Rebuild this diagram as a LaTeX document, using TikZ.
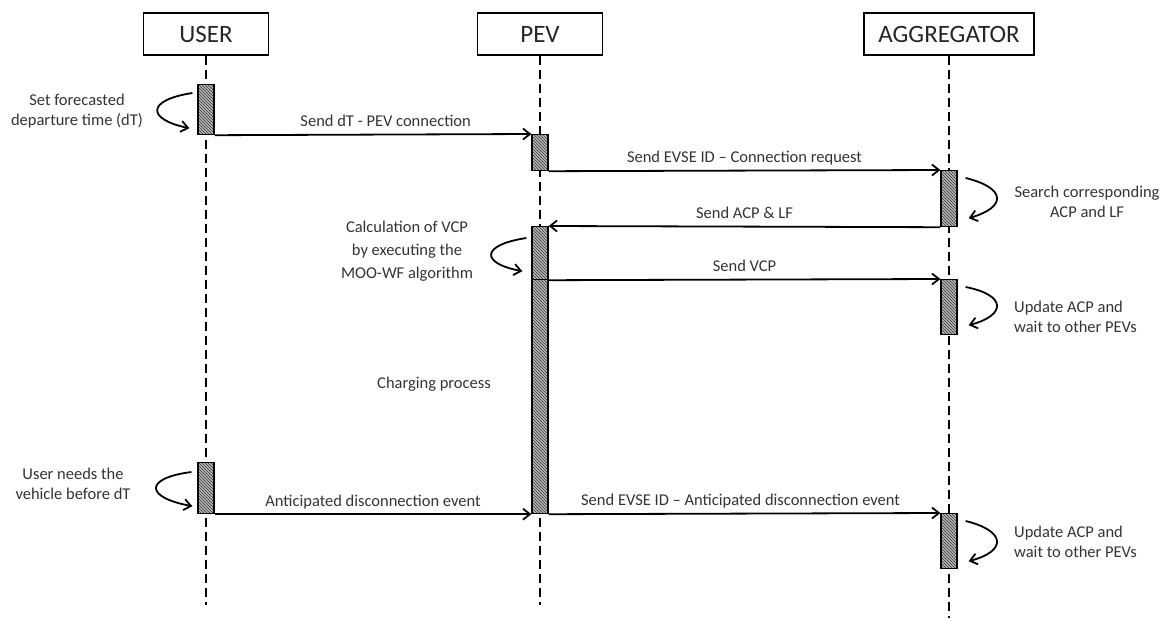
\documentclass[tikz,border=0pt]{standalone}
\usepackage{fontspec}
\setmainfont{Carlito}
\usetikzlibrary{arrows.meta,patterns}

\begin{document}
\begin{tikzpicture}[x=1pt,y=-1pt,
  every node/.style={text=black!80},
  head/.style={draw=black,text=black!85,line width=1.8pt,minimum width=125pt,minimum height=42pt,inner sep=0pt,font=\fontsize{25}{30}\selectfont},
  life/.style={line width=1.6pt,dash pattern=on 9pt off 5pt},
  bar/.style={draw,line width=1.2pt,minimum width=16pt,inner sep=0pt,anchor=north,preaction={fill=gray!55},pattern=north west lines,pattern color=black!80},
  msg/.style={line width=1.8pt,-{Straight Barb[length=7pt,width=11pt]}},
  turn/.style={line width=1.8pt,-{Straight Barb[length=7pt,width=11pt]}},
  lbl/.style={font=\fontsize{16.5}{20}\selectfont,inner sep=0pt,align=center}]
\useasboundingbox (0,0) rectangle (1172,621);

% participants
\node[head] (user) at (206,34) {USER};
\node[head] (pev) at (540,34) {PEV};
\node[head,minimum width=170pt] (agg) at (949,34) {AGGREGATOR};

\coordinate (userend) at (user.south |- 0,605);
\coordinate (pevend) at (pev.south |- 0,605);
\coordinate (aggend) at (agg.south |- 0,618);

\draw[life] (user.south) -- (userend);
\draw[life] (pev.south) -- (pevend);
\draw[life] (agg.south) -- (aggend);

% activation bars
\node[bar,minimum height=50pt] (ub1) at (user.south |- 0,84) {};
\node[bar,minimum height=36pt] (pb1) at (pev.south |- 0,134) {};
\node[bar,minimum height=56pt] (ab1) at (agg.south |- 0,170) {};
\node[bar,minimum height=53pt] (pb2) at (pev.south |- 0,226) {};
\node[bar,minimum height=234pt] (pb3) at (pev.south |- 0,279) {};
\node[bar,minimum height=55pt] (ab2) at (agg.south |- 0,279) {};
\node[bar,minimum height=51pt] (ub2) at (user.south |- 0,462) {};
\node[bar,minimum height=55pt] (ab3) at (agg.south |- 0,513) {};

% messages
\draw[msg] (ub1.south east) -- node[lbl,above=7pt,pos=.54,text depth=0pt] {Send dT - PEV connection} (pb1.north west);
\draw[msg] (pb1.south east) -- node[lbl,above=7pt,midway,text depth=0pt] {Send EVSE ID – Connection request} (ab1.north west);
\draw[msg] (ab1.south west) -- node[lbl,above=7pt,midway,text depth=0pt] {Send ACP \& LF} (pb2.north east);
\draw[msg] (pb2.south east) -- node[lbl,above=7pt,midway,text depth=0pt] {Send VCP} (ab2.north west);
\draw[msg] (ub2.south east) -- node[lbl,above=7pt,midway,text depth=0pt] {Anticipated disconnection event} (pb3.south west);
\draw[msg] (pb3.south east) -- node[lbl,above=7pt,pos=.49,text depth=0pt] {Send EVSE ID – Anticipated disconnection event} (ab3.north west);

% self calls
\draw[turn] ([shift={(-5,9)}]ub1.north west) .. controls ([shift={(-51,16)}]ub1.north west) and ([shift={(-51,-16)}]ub1.south west) .. ([shift={(-8,-7)}]ub1.south west);
\draw[turn] ([shift={(-6,10)}]ub2.north west) .. controls ([shift={(-53,16)}]ub2.north west) and ([shift={(-53,-17)}]ub2.south west) .. ([shift={(-5,-8)}]ub2.south west);
\draw[turn] ([shift={(-5,12)}]pb2.north west) .. controls ([shift={(-51,19)}]pb2.north west) and ([shift={(-51,-17)}]pb2.south west) .. ([shift={(-9,-9)}]pb2.south west);
\draw[turn] ([shift={(8,8)}]ab1.north east) .. controls ([shift={(49,18)}]ab1.north east) and ([shift={(49,-20)}]ab1.south east) .. ([shift={(11,-9)}]ab1.south east);
\draw[turn] ([shift={(8,8)}]ab2.north east) .. controls ([shift={(49,16)}]ab2.north east) and ([shift={(49,-20)}]ab2.south east) .. ([shift={(11,-10)}]ab2.south east);
\draw[turn] ([shift={(8,8)}]ab3.north east) .. controls ([shift={(49,18)}]ab3.north east) and ([shift={(49,-18)}]ab3.south east) .. ([shift={(11,-8)}]ab3.south east);

% notes
\node[lbl] (setdt) at (77,111) {Set forecasted\\departure time (dT)};
\node[lbl] (needs) at (73,484) {User needs the\\vehicle before dT};
\node[lbl,font=\fontsize{16.5}{23}\selectfont] (calc) at (407,251) {Calculation of VCP\\by executing the\\MOO-WF algorithm};
\node[lbl] (charging) at (434,384) {Charging process};
\node[lbl] (search) at (1087,202) {Search corresponding\\ACP and LF};
\node[lbl,align=left,anchor=west] (upd1) at (1014,317) {Update ACP and\\wait to other PEVs};
\node[lbl,align=left,anchor=west] (upd2) at (1014,542) {Update ACP and\\wait to other PEVs};
\end{tikzpicture}
\end{document}
